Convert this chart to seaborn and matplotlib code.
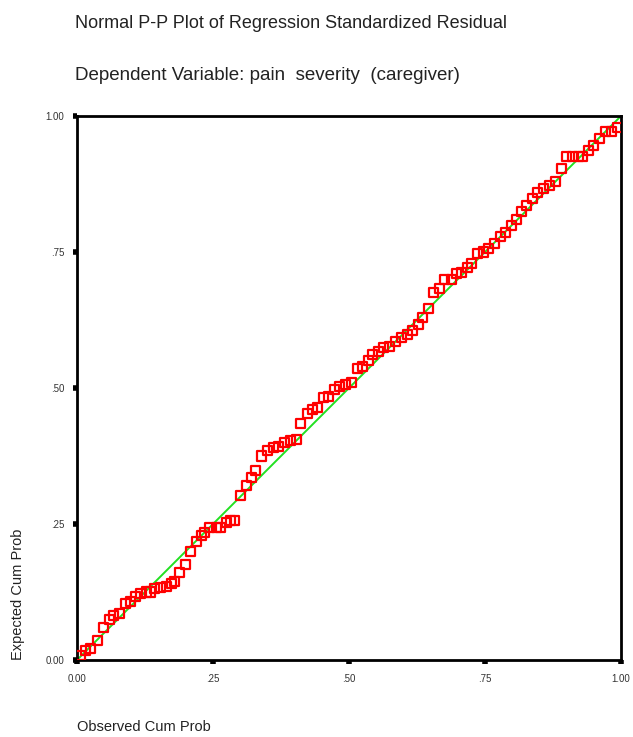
import matplotlib
matplotlib.use("Agg")
import matplotlib.pyplot as plt
import seaborn as sns
import pandas as pd

# Observed vs expected cumulative probabilities
observed = [0.006, 0.015, 0.024, 0.037, 0.048, 0.059, 0.068, 0.079, 0.090, 0.099,
            0.107, 0.116, 0.127, 0.136, 0.143, 0.153, 0.165, 0.173, 0.180, 0.189,
            0.200, 0.208, 0.219, 0.228, 0.235, 0.244, 0.256, 0.263, 0.274, 0.283,
            0.290, 0.300, 0.311, 0.320, 0.329, 0.340, 0.351, 0.362, 0.371, 0.382,
            0.392, 0.403, 0.410, 0.423, 0.432, 0.443, 0.454, 0.463, 0.474, 0.483,
            0.493, 0.504, 0.515, 0.524, 0.535, 0.544, 0.555, 0.564, 0.575, 0.586,
            0.596, 0.607, 0.616, 0.627, 0.636, 0.647, 0.656, 0.667, 0.676, 0.688,
            0.697, 0.706, 0.717, 0.726, 0.737, 0.748, 0.757, 0.768, 0.778, 0.787,
            0.798, 0.807, 0.818, 0.827, 0.838, 0.847, 0.858, 0.868, 0.879, 0.890,
            0.899, 0.910, 0.921, 0.930, 0.941, 0.950, 0.961, 0.971, 0.982, 0.993]
expected = [0.009, 0.017, 0.022, 0.035, 0.059, 0.074, 0.081, 0.086, 0.103, 0.108,
            0.116, 0.123, 0.125, 0.125, 0.131, 0.134, 0.136, 0.140, 0.145, 0.160,
            0.175, 0.200, 0.217, 0.228, 0.235, 0.243, 0.244, 0.244, 0.252, 0.256,
            0.257, 0.303, 0.320, 0.336, 0.349, 0.375, 0.386, 0.390, 0.392, 0.399,
            0.403, 0.406, 0.434, 0.454, 0.460, 0.465, 0.483, 0.485, 0.498, 0.502,
            0.507, 0.511, 0.535, 0.540, 0.550, 0.561, 0.568, 0.574, 0.577, 0.586,
            0.592, 0.599, 0.605, 0.616, 0.629, 0.647, 0.676, 0.682, 0.699, 0.700,
            0.710, 0.713, 0.721, 0.728, 0.748, 0.750, 0.757, 0.765, 0.779, 0.785,
            0.798, 0.809, 0.824, 0.836, 0.849, 0.860, 0.866, 0.873, 0.879, 0.904,
            0.925, 0.925, 0.925, 0.925, 0.936, 0.945, 0.958, 0.971, 0.972, 0.978]
diag = [0.0, 1.0]
tick_values = [0.0, 0.25, 0.5, 0.75, 1.0]
tick_labels = ["0.00", ".25", ".50", ".75", "1.00"]

sns.set_style("white")
plt.rcParams["font.family"] = ["Liberation Sans", "DejaVu Sans"]

df = pd.DataFrame({"observed": observed, "expected": expected})

fig = plt.figure(figsize=(6.33, 7.37), dpi=100)
ax = fig.add_axes([77 / 633, 77 / 737, 544 / 633, 544 / 737])

# reference line y = x
ax.plot(diag, diag, color="#22e022", linewidth=1.4, zorder=2)
sns.scatterplot(data=df, x="observed", y="expected", ax=ax, marker="s", s=42,
                facecolor="none", edgecolor="red", linewidth=1.6, zorder=3)

ax.set_xlim(0, 1)
ax.set_ylim(0, 1)
ax.set_xticks(tick_values)
ax.set_xticklabels(tick_labels)
ax.set_yticks(tick_values)
ax.set_yticklabels(tick_labels)
ax.tick_params(axis="both", bottom=True, left=True, direction="out", length=3,
               width=4, color="black", labelsize=7, labelcolor="#333333")
ax.tick_params(axis="x", pad=7)
ax.tick_params(axis="y", pad=6)
for spine in ax.spines.values():
    spine.set_color("black")
    spine.set_linewidth(2)

ax.set_xlabel("")
ax.set_ylabel("")
fig.text(77 / 633, 1 - 727 / 737, "Observed Cum Prob", fontsize=10.5,
         ha="left", va="center", color="#222222")
fig.text(18 / 633, 1 - 660 / 737, "Expected Cum Prob", fontsize=10.5,
         rotation=90, ha="center", va="bottom", color="#222222")

fig.text(75 / 633, 1 - 24 / 737,
         "Normal P-P Plot of Regression Standardized Residual",
         fontsize=13, ha="left", va="center", color="#222222")
fig.text(75 / 633, 1 - 76 / 737,
         "Dependent Variable: pain  severity  (caregiver)",
         fontsize=13.5, ha="left", va="center", color="#222222")

fig.savefig("out.png", dpi=100)
